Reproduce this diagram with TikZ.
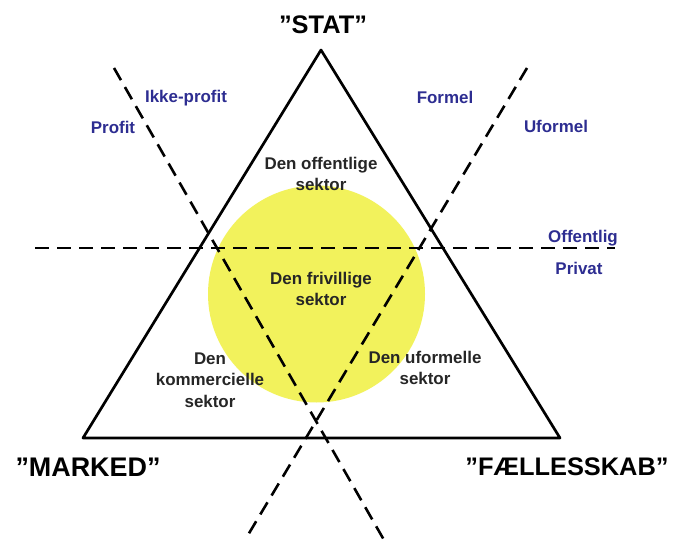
\documentclass[tikz,border=0pt]{standalone}
\usepackage{fontspec}
\setmainfont{Liberation Sans}
\definecolor{etiket}{RGB}{45,45,145}
\definecolor{gul}{RGB}{242,242,92}

\begin{document}
\begin{tikzpicture}[
	x=1bp, y=-1bp,
	line join=round,
	font=\bfseries\fontsize{17}{21.5}\selectfont,
	delelinje/.style={black, line width=2.6bp, dash pattern=on 14bp off 8bp},
	sektor/.style={align=center, text=black!85, inner sep=0pt},
	akse/.style={text=etiket, inner sep=0pt},
	hjoerne/.style={font=\bfseries\fontsize{25.5}{30}\selectfont, inner sep=0pt}
	]
	
	% Ramme
	\useasboundingbox (0,0) rectangle (676,540);
	\fill[white] (0,0) rectangle (676,540);
	
	% Den gule cirkel
	\fill[gul] (316.5,294) circle[radius=108.5bp];
	
	% Hjørner
	\coordinate (S) at (321,50);
	\coordinate (M) at (83,438);
	\coordinate (F) at (560,438);
	
	% Trekant
	\draw[line width=2.7bp] (S)--(M)--(F)--cycle;
	
	% Endepunkter for skillelinjer
	\coordinate (O1) at (35,248);
	\coordinate (O2) at (615,248);
	\coordinate (P1) at (114,68);
	\coordinate (P2) at (384,540);
	\coordinate (U1) at (527,68);
	\coordinate (U2) at (245,540);
	
	% Skillelinjer
	\draw[delelinje] (O1)--(O2);
	\draw[delelinje] (P1)--(P2);
	\draw[delelinje] (U1)--(U2);
	
	% Hjørnenavne
	\node[hjoerne] (stat) at (323,25) {”STAT”};
	\node[hjoerne, font=\bfseries\fontsize{27}{30}\selectfont] (marked) at (88,467) {”MARKED”};
	\node[hjoerne] (faelles) at (567,467) {”FÆLLESSKAB”};
	
	% Sektorer
	\node[sektor] (offentlig) at (321,174) {Den offentlige\\sektor};
	\node[sektor] (frivillig) at (321,289) {Den frivillige\\sektor};
	\node[sektor] (kommerciel) at (210,380) {Den\\kommercielle\\sektor};
	\node[sektor] (uformel) at (425,368) {Den uformelle\\sektor};
	
	% Akser
	\node[akse] (ikkeprofit) at (186,98) {Ikke-profit};
	\node[akse] (profit) at (113,127) {Profit};
	\node[akse] (formel) at (445,97) {Formel};
	\node[akse] (uformelt) at (556,126) {Uformel};
	\node[akse] (offentligt) at (583,238) {Offentlig};
	\node[akse] (privat) at (579,268) {Privat};
	
\end{tikzpicture}
\end{document}
